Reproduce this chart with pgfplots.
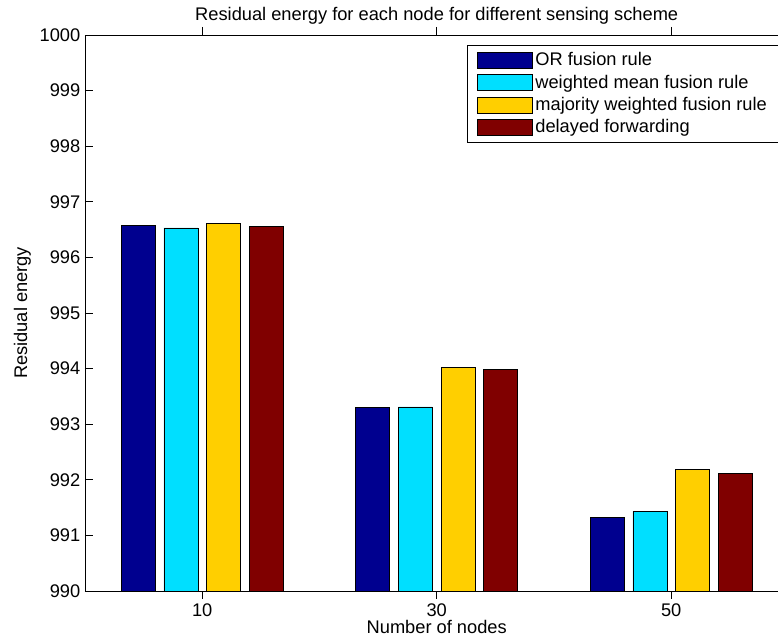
\documentclass[border=0pt]{standalone}
\usepackage{pgfplots}
\pgfplotsset{compat=1.18}
\usepackage{fontspec}
\setmainfont{Liberation Sans}
\definecolor{c1}{rgb}{0,0,0.5625}
\definecolor{c2}{rgb}{0,0.875,1}
\definecolor{c3}{rgb}{1,0.8125,0}
\definecolor{c4}{rgb}{0.5,0,0}
\newcommand{\fnt}{\fontsize{13.7}{16}\selectfont}
\begin{document}
\begin{tikzpicture}
\begin{axis}[
  at={(0,0)}, anchor=south west,
  width=527.6pt, height=417pt, scale only axis,
  xmin=0, xmax=60, ymin=990, ymax=1000,
  xtick={10,30,50}, ytick={990,991,...,1000},
  tick align=inside, major tick length=6pt,
  /pgf/number format/assume math mode=true,
  /pgf/number format/1000 sep={},
  ybar=6.5pt, bar width=25.5pt,
  axis line style={line width=0.6pt},
  tick style={line width=0.5pt, black},
  every tick label/.append style={font=\fnt},
  every axis title shift=0pt,
  title={Residual energy for each node for different sensing scheme},
  title style={font=\fnt, at={(axis description cs:0.5,1.0252)}, anchor=base, yshift=0pt},
  xlabel={Number of nodes},
  xlabel style={font=\fnt, at={(axis description cs:0.5,-0.0773)}, anchor=base},
  ylabel={Residual energy},
  ylabel style={font=\fnt, at={(axis description cs:-0.0824,0.5)}, anchor=base},
  legend style={at={(axis description cs:0.543,0.982)}, anchor=north west,
    font=\fnt, draw=black, line width=0.6pt,
    cells={anchor=west}, row sep=1.3pt, inner xsep=7.5pt, inner ysep=3.5pt},
  legend image code/.code={\draw[#1, line width=0.5pt] (0pt,-6pt) rectangle (41pt,6pt);},
]
\addplot[fill=c1, draw=black, line width=0.5pt] coordinates {(10,996.57) (30,993.30) (50,991.32)};
\addplot[fill=c2, draw=black, line width=0.5pt] coordinates {(10,996.53) (30,993.31) (50,991.43)};
\addplot[fill=c3, draw=black, line width=0.5pt] coordinates {(10,996.61) (30,994.02) (50,992.18)};
\addplot[fill=c4, draw=black, line width=0.5pt] coordinates {(10,996.56) (30,993.99) (50,992.12)};
\legend{OR fusion rule, weighted mean fusion rule, \makebox[188pt][l]{majority weighted fusion rule}, delayed forwarding}
\end{axis}
\pgfresetboundingbox
\path[use as bounding box] (-63.75pt,-35.25pt) rectangle (519.75pt,443.25pt);
\end{tikzpicture}
\end{document}
